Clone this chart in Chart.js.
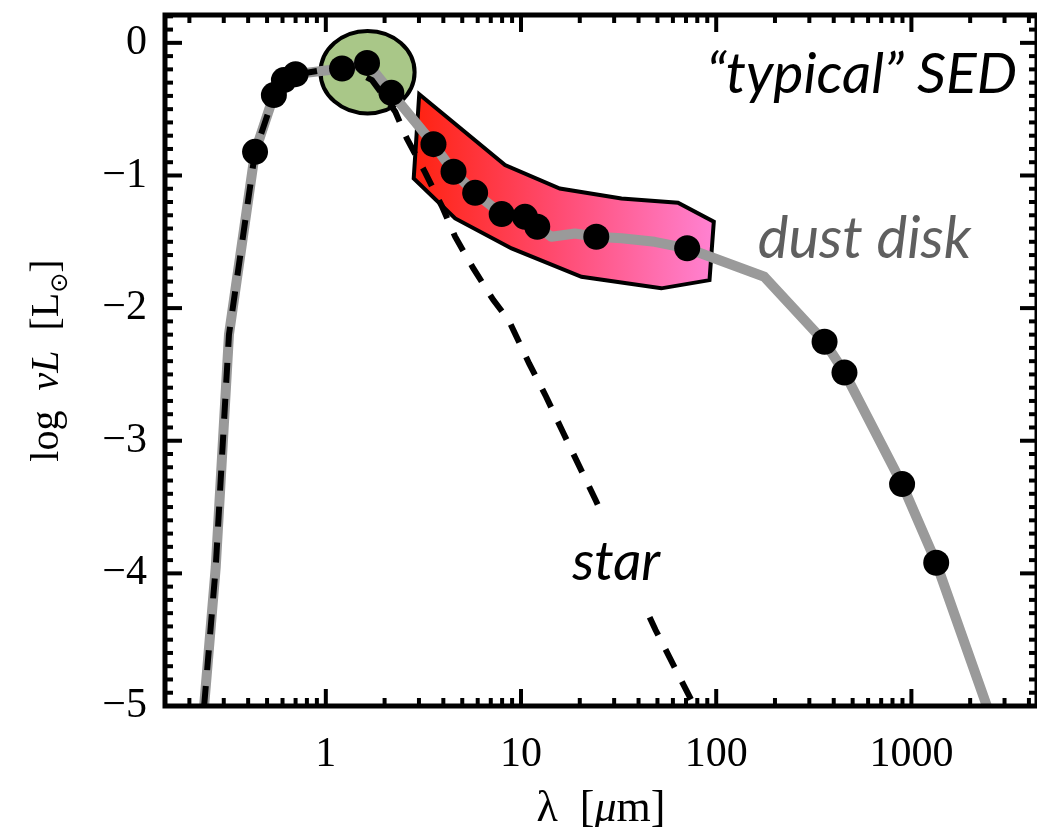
<!DOCTYPE html>
<html>
<head>
<meta charset="utf-8">
<script src="https://cdn.jsdelivr.net/npm/chart.js@4.4.1/dist/chart.umd.min.js"></script>
<style>
html,body{margin:0;padding:0;background:#fff;overflow:hidden;width:1037px;height:827px}
#wrap{position:absolute;left:0;top:0;width:1037px;height:827px}
</style>
</head>
<body>
<div id="wrap"><canvas id="c" width="1037" height="827"></canvas></div>
<script>
// ---- data (wavelength in micron, log nuL in Lsun) ----
const obsWavelength = [0.434, 0.542, 0.610, 0.700, 1.211, 1.626, 2.167, 3.56, 4.51, 5.82, 7.96, 10.48, 12.11, 24.3, 71.0, 359, 454, 896, 1340];
const obsLogL       = [-0.822, -0.394, -0.281, -0.236, -0.193, -0.151, -0.377, -0.764, -0.972, -1.131, -1.291, -1.312, -1.387, -1.462, -1.549, -2.254, -2.486, -3.327, -3.920];

const sedWavelength = [0.238, 0.273, 0.319, 0.434, 0.542, 0.610, 0.700, 1.211, 1.626, 2.167, 3.56, 4.51, 5.82, 7.96, 10.48, 12.11, 14.3, 18.9, 24.3, 32.7, 48.4, 71.0, 176.5, 359, 454, 896, 1340, 2435];
const sedLogL       = [-5.0, -3.95, -2.2, -0.822, -0.394, -0.281, -0.236, -0.193, -0.151, -0.377, -0.764, -0.972, -1.131, -1.291, -1.312, -1.387, -1.462, -1.437, -1.462, -1.474, -1.50, -1.549, -1.764, -2.254, -2.486, -3.327, -3.920, -5.0];

const starWavelength = [0.238, 0.273, 0.319, 0.434, 0.542, 0.70, 1.0, 1.3, 1.724, 2.27, 2.60, 3.23, 3.93, 4.60, 5.70, 7.22, 8.64, 11.0, 13.45, 16.5, 24.1, 48.9, 77.6];
const starLogL       = [-5.0, -3.95, -2.2, -0.822, -0.40, -0.24, -0.20, -0.19, -0.281, -0.520, -0.721, -0.978, -1.231, -1.462, -1.701, -1.940, -2.090, -2.417, -2.668, -2.944, -3.447, -4.427, -5.005];

// infrared-excess region outline
const diskPolyWavelength = [3.01, 8.28, 15.8, 32.7, 63.7, 97.2, 92.4, 52.3, 20.4, 8.95, 4.60, 2.82];
const diskPolyLogL       = [-0.387, -0.922, -1.098, -1.173, -1.206, -1.349, -1.789, -1.851, -1.764, -1.550, -1.324, -1.022];

// stellar-peak ellipse bounds
const peakEllipseWavelength = [0.9395, 2.85];
const peakEllipseLogL       = [0.090, -0.532];

// ticks
const xTickValues = [1, 10, 100, 1000];
const xTickLabels = ['1', '10', '100', '1000'];
const yTickValues = [-5, -4, -3, -2, -1, 0];
const yTickLabels = ['\u22125', '\u22124', '\u22123', '\u22122', '\u22121', '0'];

const toXY = (xs, ys) => xs.map((x, i) => ({x: x, y: ys[i]}));

const serif = '"Liberation Serif", "DejaVu Serif", serif';
const sans = 'Lato, "Open Sans", "Noto Sans", sans-serif';

const backgroundShapes = {
  id: 'backgroundShapes',
  beforeDatasetsDraw(chart) {
    const ctx = chart.ctx, X = chart.scales.x, Y = chart.scales.y;
    ctx.save();
    const pts = diskPolyWavelength.map((w, i) => [X.getPixelForValue(w), Y.getPixelForValue(diskPolyLogL[i])]);
    const xs = pts.map(p => p[0]);
    const g = ctx.createLinearGradient(Math.min(...xs), 0, Math.max(...xs), 0);
    g.addColorStop(0, '#ff2210');
    g.addColorStop(0.5, '#ff4d75');
    g.addColorStop(1, '#ff82d2');
    ctx.beginPath();
    pts.forEach((p, i) => i ? ctx.lineTo(p[0], p[1]) : ctx.moveTo(p[0], p[1]));
    ctx.closePath();
    ctx.fillStyle = g;
    ctx.fill();
    ctx.lineWidth = 4;
    ctx.lineJoin = 'miter';
    ctx.strokeStyle = '#000';
    ctx.stroke();
    const x1 = X.getPixelForValue(peakEllipseWavelength[0]), x2 = X.getPixelForValue(peakEllipseWavelength[1]);
    const y1 = Y.getPixelForValue(peakEllipseLogL[0]), y2 = Y.getPixelForValue(peakEllipseLogL[1]);
    ctx.beginPath();
    ctx.ellipse((x1 + x2) / 2, (y1 + y2) / 2, Math.abs(x2 - x1) / 2, Math.abs(y2 - y1) / 2, 0, 0, Math.PI * 2);
    ctx.fillStyle = '#a9c788';
    ctx.fill();
    ctx.lineWidth = 4;
    ctx.stroke();
    ctx.restore();
  }
};

const labels = {
  id: 'labels',
  afterDatasetsDraw(chart) {
    const ctx = chart.ctx, X = chart.scales.x, Y = chart.scales.y;
    ctx.save();
    const bx1 = X.getPixelForValue(16.5), bx2 = X.getPixelForValue(56.6);
    const by1 = Y.getPixelForValue(-3.507), by2 = Y.getPixelForValue(-4.254);
    ctx.fillStyle = '#fff';
    ctx.fillRect(bx1, by1, bx2 - bx1, by2 - by1);
    ctx.textBaseline = 'alphabetic';
    ctx.fillStyle = '#000';
    ctx.font = 'italic 55px ' + sans;
    ctx.textAlign = 'left';
    ctx.fillText('star', X.getPixelForValue(18.3), Y.getPixelForValue(-4.05));
    ctx.textAlign = 'right';
    ctx.font = 'italic 57px ' + sans;
    ctx.fillText('\u201Ctypical\u201D SED', X.getPixelForValue(3475), Y.getPixelForValue(-0.381));
    ctx.textAlign = 'left';
    ctx.fillStyle = '#5f5f5f';
    ctx.font = 'italic 58px ' + sans;
    ctx.fillText('dust disk', X.getPixelForValue(163.2), Y.getPixelForValue(-1.625));
    ctx.restore();
  }
};

const frame = {
  id: 'frame',
  afterDraw(chart) {
    const ctx = chart.ctx, X = chart.scales.x, Y = chart.scales.y;
    const a = chart.chartArea;
    ctx.save();
    ctx.strokeStyle = '#000';
    ctx.lineCap = 'butt';
    ctx.lineWidth = 4;
    const seg = (x1, y1, x2, y2) => { ctx.beginPath(); ctx.moveTo(x1, y1); ctx.lineTo(x2, y2); ctx.stroke(); };
    for (let e = -1; e <= 3; e++) {
      for (let k = 1; k <= 9; k++) {
        const v = k * Math.pow(10, e);
        if (v < X.min || v > X.max) continue;
        const x = X.getPixelForValue(v);
        const L = k === 1 ? 17 : 8;
        seg(x, a.bottom, x, a.bottom - L);
        seg(x, a.top, x, a.top + L);
      }
    }
    for (let i = -50; i <= 5; i++) {
      const v = i / 10;
      if (v < Y.min - 1e-9 || v > Y.max + 1e-9) continue;
      const y = Y.getPixelForValue(v);
      const L = i % 10 === 0 ? 17 : 8;
      seg(a.left, y, a.left + L, y);
      seg(a.right, y, a.right - L, y);
    }
    ctx.lineWidth = 5;
    ctx.strokeRect(a.left, a.top, a.right - a.left, a.bottom - a.top);

    ctx.fillStyle = '#000';
    ctx.textBaseline = 'alphabetic';
    ctx.textAlign = 'left';
    const xc = (a.left + a.right) / 2;
    ctx.font = '44px ' + serif;
    const wl = ctx.measureText('\u03BB  [').width;
    ctx.font = 'italic 44px ' + serif;
    const wm = ctx.measureText('\u03BC').width;
    ctx.font = '44px ' + serif;
    const wr = ctx.measureText('m]').width;
    const x0 = xc - (wl + wm + wr) / 2;
    const yb = 821;
    ctx.fillText('\u03BB  [', x0, yb);
    ctx.font = 'italic 44px ' + serif;
    ctx.fillText('\u03BC', x0 + wl, yb);
    ctx.font = '44px ' + serif;
    ctx.fillText('m]', x0 + wl + wm, yb);

    const yc = (a.top + a.bottom) / 2;
    ctx.save();
    ctx.translate(58, yc);
    ctx.rotate(-Math.PI / 2);
    const parts = [
      ['log  ', '40px ' + serif, 0],
      ['\u03BDL', 'italic 40px ' + serif, 0],
      ['  [L', '40px ' + serif, 0],
      ['\u2299', '24px "DejaVu Sans"', 9],
      [']', '40px ' + serif, 0]
    ];
    let total = 0;
    parts.forEach(p => { ctx.font = p[1]; total += ctx.measureText(p[0]).width; });
    let t = -total / 2;
    parts.forEach(p => { ctx.font = p[1]; ctx.fillText(p[0], t, p[2]); t += ctx.measureText(p[0]).width; });
    ctx.restore();
    ctx.restore();
  }
};

new Chart(document.getElementById('c'), {
  type: 'scatter',
  data: {
    datasets: [
      {
        label: 'photometry',
        data: toXY(obsWavelength, obsLogL),
        showLine: false,
        pointRadius: 13,
        pointHoverRadius: 13,
        pointBackgroundColor: '#000',
        pointBorderWidth: 0,
        order: 0
      },
      {
        label: 'star',
        data: toXY(starWavelength, starLogL),
        showLine: true,
        borderColor: '#000',
        borderWidth: 6,
        borderDash: [20, 16],
        pointRadius: 0,
        tension: 0,
        order: 1
      },
      {
        label: 'SED',
        data: toXY(sedWavelength, sedLogL),
        showLine: true,
        borderColor: '#9a9a9a',
        borderWidth: 10,
        borderJoinStyle: 'round',
        pointRadius: 0,
        tension: 0,
        order: 2
      }
    ]
  },
  options: {
    responsive: false,
    animation: false,
    devicePixelRatio: 1,
    events: [],
    layout: {autoPadding: false, padding: {top: 15, right: -3, left: 0, bottom: 0}},
    plugins: {legend: {display: false}, tooltip: {enabled: false}},
    scales: {
      x: {
        type: 'logarithmic',
        min: 0.15,
        max: 4400,
        grid: {display: false, drawTicks: false},
        border: {display: false},
        afterBuildTicks: s => { s.ticks = xTickValues.map(v => ({value: v})); },
        afterFit: s => { s.height = 121; s.paddingLeft = 0; s.paddingRight = 0; },
        ticks: {
          autoSkip: false, maxRotation: 0, minRotation: 0, padding: 24, color: '#000',
          font: {family: serif, size: 42},
          callback: v => { const i = xTickValues.indexOf(v); return i >= 0 ? xTickLabels[i] : ''; }
        }
      },
      y: {
        type: 'linear',
        min: -5,
        max: 0.21,
        grid: {display: false, drawTicks: false},
        border: {display: false},
        afterBuildTicks: s => { s.ticks = yTickValues.map(v => ({value: v})); },
        afterFit: s => { s.width = 165; s.paddingTop = 0; s.paddingBottom = 0; },
        ticks: {
          padding: 18, color: '#000',
          font: {family: serif, size: 42},
          callback: v => { const i = yTickValues.indexOf(v); return i >= 0 ? yTickLabels[i] : ''; }
        }
      }
    }
  },
  plugins: [backgroundShapes, labels, frame]
});
</script>
</body>
</html>
